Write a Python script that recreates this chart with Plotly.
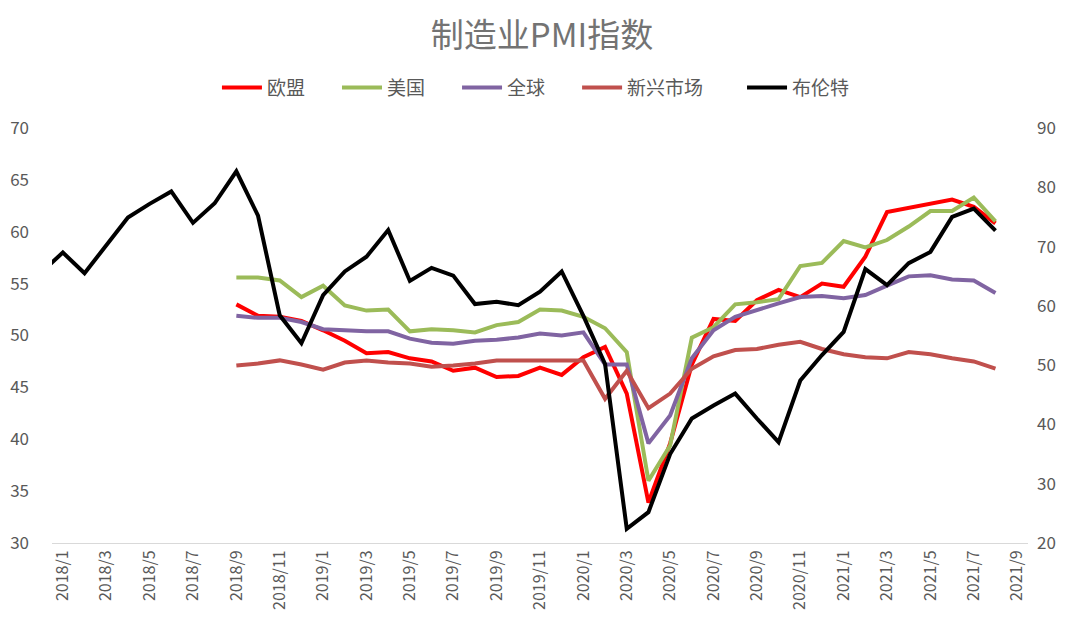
import plotly.graph_objects as go

# monthly categories; 2017/12 only exists so the Brent line enters from the left edge
months = ["2017/12"] + [f"{y}/{m}" for y in (2018, 2019, 2020, 2021) for m in range(1, 13)][:45]

# Brent, 2017/12 .. 2021/8 (right axis)
brent = [65.6, 69.0, 65.5, 70.3, 74.9, 77.2, 79.3, 74.0, 77.3, 82.7, 75.2, 58.4, 53.7,
         61.8, 65.8, 68.3, 72.8, 64.2, 66.4, 65.1, 60.3, 60.7, 60.1, 62.4, 65.8,
         58.3, 50.2, 22.4, 25.2, 35.0, 41.0, 43.2, 45.2, 41.0, 37.0, 47.4, 51.7,
         55.6, 66.2, 63.5, 67.2, 69.1, 75.0, 76.4, 72.7]

# PMI series, 2018/9 .. 2021/8 (left axis)
eu = [53.0, 51.9, 51.8, 51.4,
      50.5, 49.5, 48.3, 48.4, 47.8, 47.5, 46.6, 46.9, 46.0, 46.1, 46.9, 46.2,
      47.9, 48.9, 44.4, 33.9, 39.6, 47.2, 51.6, 51.4, 53.4, 54.4, 53.7, 55.0,
      54.7, 57.6, 61.9, 62.3, 62.7, 63.1, 62.4, 60.8]
us = [55.6, 55.6, 55.3, 53.7,
      54.8, 52.9, 52.4, 52.5, 50.4, 50.6, 50.5, 50.3, 51.0, 51.3, 52.5, 52.4,
      51.8, 50.7, 48.4, 36.0, 39.4, 49.8, 50.8, 53.0, 53.2, 53.5, 56.7, 57.0,
      59.1, 58.5, 59.2, 60.5, 62.0, 62.0, 63.3, 61.0]
world = [51.9, 51.7, 51.7, 51.3,
         50.6, 50.5, 50.4, 50.4, 49.7, 49.3, 49.2, 49.5, 49.6, 49.8, 50.2, 50.0,
         50.3, 47.2, 47.2, 39.6, 42.3, 47.8, 50.5, 51.8, 52.5, 53.1, 53.7, 53.8,
         53.6, 53.9, 54.8, 55.7, 55.8, 55.4, 55.3, 54.1]
emerging = [47.1, 47.3, 47.6, 47.2,
            46.7, 47.4, 47.6, 47.4, 47.3, 47.0, 47.1, 47.3, 47.6, 47.6, 47.6, 47.6,
            47.6, 43.9, 46.6, 43.0, 44.4, 46.8, 48.0, 48.6, 48.7, 49.1, 49.4, 48.7,
            48.2, 47.9, 47.8, 48.4, 48.2, 47.8, 47.5, 46.8]

pmi_months = months[9:45]
tick_labels = months[1::2]

font = "Noto Sans CJK SC, Noto Sans, sans-serif"
grey = "#595959"

# one legend box per series so the entries can be spaced like the original
legend_x = [0.169, 0.292, 0.415, 0.538, 0.707]

fig = go.Figure()
series = [("欧盟", eu, "#FF0000"), ("美国", us, "#9BBB59"),
          ("全球", world, "#8064A2"), ("新兴市场", emerging, "#C0504D")]
for i, (name, vals, color) in enumerate(series):
    fig.add_trace(go.Scatter(x=pmi_months, y=vals, name=name, mode="lines",
                             line=dict(color=color, width=4),
                             legend="legend" if i == 0 else f"legend{i + 1}"))
fig.add_trace(go.Scatter(x=months[:45], y=brent, name="布伦特", mode="lines",
                         line=dict(color="#000000", width=4), yaxis="y2",
                         legend="legend5"))

legends = {}
for i, lx in enumerate(legend_x):
    key = "legend" if i == 0 else f"legend{i + 1}"
    legends[key] = dict(orientation="h", x=lx, xanchor="left", y=1.097, yanchor="middle",
                        font=dict(size=19, color=grey), itemwidth=40,
                        bgcolor="rgba(0,0,0,0)")

# page body has an 8px margin, so the figure is 8px smaller than the window
fig.update_layout(
    width=1068, height=619,
    margin=dict(l=44, r=48, t=120, b=84, autoexpand=False),
    plot_bgcolor="white", paper_bgcolor="white",
    font=dict(family=font, color=grey),
    title=dict(text="制造业PMI指数", x=0.5, xanchor="center", y=0.956, yanchor="middle",
               font=dict(size=33, color="#737373")),
    showlegend=True,
    xaxis=dict(type="category", categoryorder="array", categoryarray=months,
               range=[0.5, 45.5], tickmode="array", tickvals=tick_labels,
               ticktext=tick_labels, tickangle=-90, tickfont=dict(size=16, color=grey),
               showgrid=False, showline=True, linecolor="#D9D9D9", linewidth=1,
               ticks="", zeroline=False, automargin=False),
    yaxis=dict(range=[30, 70], dtick=5, showgrid=False, zeroline=False,
               tickfont=dict(size=17, color=grey), ticklabelstandoff=22,
               automargin=False),
    yaxis2=dict(range=[20, 90], dtick=10, overlaying="y", side="right",
                showgrid=False, zeroline=False, tickfont=dict(size=17, color=grey),
                ticklabelstandoff=8, automargin=False),
    **legends,
)

fig.write_html("out.html")
